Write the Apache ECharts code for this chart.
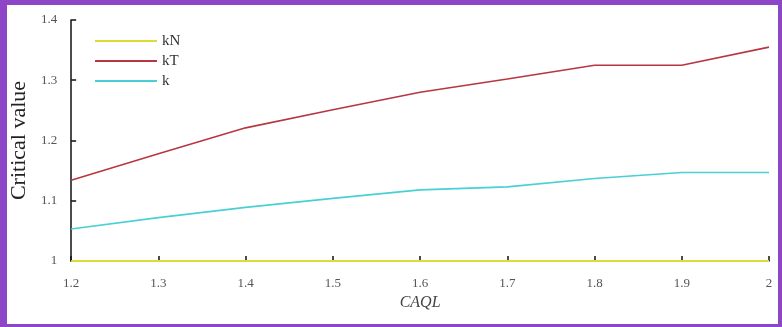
<!DOCTYPE html>
<html>
<head>
<meta charset="utf-8">
<script src="https://cdn.jsdelivr.net/npm/echarts@6/dist/echarts.min.js"></script>
<style>
  html, body { margin: 0; padding: 0; background: #ffffff; }
  #wrap { position: relative; width: 782px; height: 327px; }
  #chart { position: absolute; left: 0; top: 0; width: 782px; height: 327px; }
  #frame {
    position: absolute; left: 0; top: 0; width: 782px; height: 327px;
    box-sizing: border-box; pointer-events: none;
    border-style: solid; border-color: #8e46c8;
    border-width: 5px 4px 3px 7px;
  }
</style>
</head>
<body>
<div id="wrap">
  <div id="chart"></div>
  <div id="frame"></div>
</div>
<script>
// CAQL levels on the horizontal axis
const caql = [1.2, 1.3, 1.4, 1.5, 1.6, 1.7, 1.8, 1.9, 2.0];
// critical values per series
const kN = [1, 1, 1, 1, 1, 1, 1, 1, 1];
const kT = [1.134, 1.178, 1.221, 1.251, 1.280, 1.302, 1.325, 1.325, 1.355];
const k  = [1.053, 1.072, 1.089, 1.104, 1.118, 1.123, 1.137, 1.147, 1.147];
const seriesNames = ['kN', 'kT', 'k'];
const seriesColors = ['#dcdc34', '#b83640', '#48d0d4'];

const pairs = arr => caql.map((x, i) => [x, arr[i]]);
const values = [kN, kT, k];

const serif = '"Liberation Serif", "Times New Roman", serif';

const chart = echarts.init(document.getElementById('chart'), null, { renderer: 'canvas' });
chart.setOption({
  animation: false,
  backgroundColor: '#ffffff',
  grid: { left: 67, right: 13, top: 20, bottom: 66, containLabel: false },
  legend: {
    left: 90, top: 28, orient: 'vertical', itemGap: 4,
    itemWidth: 62, itemHeight: 2,
    icon: 'rect',
    textStyle: { fontFamily: serif, fontSize: 15, color: '#333333', lineHeight: 16 },
    data: seriesNames.map((n, i) => ({ name: n, itemStyle: { color: seriesColors[i] } }))
  },
  xAxis: {
    type: 'value', min: 1.2, max: 2.0, interval: 0.1,
    name: 'CAQL', nameLocation: 'middle', nameGap: 34,
    nameTextStyle: { fontFamily: serif, fontSize: 16, fontStyle: 'italic', color: '#444444' },
    axisLine: { show: true, lineStyle: { color: '#111111', width: 1.5 } },
    axisTick: { show: true, inside: true, length: 5, lineStyle: { color: '#111111', width: 1.5 } },
    axisLabel: {
      fontFamily: serif, fontSize: 13, color: '#555555', margin: 16,
      formatter: v => String(Math.round(v * 10) / 10)
    },
    splitLine: { show: false }
  },
  yAxis: {
    type: 'value', min: 1.0, max: 1.4, interval: 0.1,
    name: 'Critical value', nameLocation: 'middle', nameGap: 38,
    nameTextStyle: { fontFamily: serif, fontSize: 22, color: '#222222' },
    axisLine: { show: true, lineStyle: { color: '#111111', width: 1.5 } },
    axisTick: { show: true, inside: true, length: 5, lineStyle: { color: '#111111', width: 1.5 } },
    axisLabel: {
      fontFamily: serif, fontSize: 13, color: '#555555', margin: 14,
      formatter: v => String(Math.round(v * 10) / 10)
    },
    splitLine: { show: false }
  },
  series: seriesNames.map((name, i) => ({
    name: name,
    type: 'line',
    data: pairs(values[i]),
    symbol: 'none',
    z: i === 0 ? 1 : 3,
    lineStyle: { color: seriesColors[i], width: i === 0 ? 2 : 1.6 },
    itemStyle: { color: seriesColors[i] }
  }))
});
</script>
</body>
</html>
